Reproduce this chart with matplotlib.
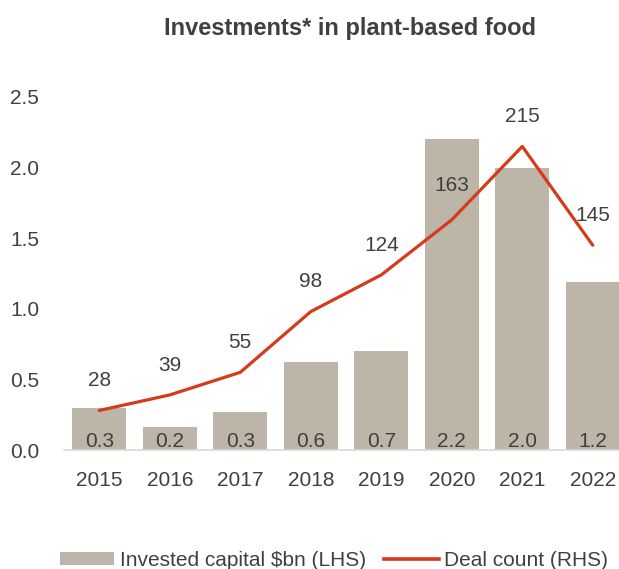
import matplotlib
matplotlib.use("Agg")
import matplotlib.pyplot as plt
from matplotlib.patches import Patch
from matplotlib.lines import Line2D

years = ["2015", "2016", "2017", "2018", "2019", "2020", "2021", "2022"]
invested_bn = [0.30, 0.16, 0.27, 0.62, 0.70, 2.20, 2.00, 1.19]
invested_labels = ["0.3", "0.2", "0.3", "0.6", "0.7", "2.2", "2.0", "1.2"]
deal_count = [28, 39, 55, 98, 124, 163, 215, 145]
y_ticks = [0.0, 0.5, 1.0, 1.5, 2.0, 2.5]

plt.rcParams['font.family'] = ['Liberation Sans', 'DejaVu Sans']
TXT = '#404040'
BAR = '#BDB5A8'
LINE = '#D63A1A'
FS = 15

fig = plt.figure(figsize=(6.19, 5.69), dpi=100)
W, H = 619, 569
ax = fig.add_axes([64 / W, 1 - 450 / H, (628 - 64) / W, (450 - 97) / H])
x = list(range(len(years)))
ax.bar(x, invested_bn, width=0.77, color=BAR, zorder=2)
ax.set_xlim(-0.5, len(years) - 0.5)
ax.set_ylim(0, 2.5)
ax.set_yticks(y_ticks)
ax.set_yticklabels([f"{v:.1f}" for v in y_ticks])
ax.set_xticks(x)
ax.set_xticklabels(years)
ax.tick_params(axis='both', length=0, labelsize=FS, colors=TXT)
ax.tick_params(axis='y', pad=18)
ax.tick_params(axis='x', pad=15)
for s in ['top', 'right', 'left']:
    ax.spines[s].set_visible(False)
ax.spines['bottom'].set_color('#D9D9D9')
ax.spines['bottom'].set_linewidth(1.2)
ax.spines['bottom'].set_zorder(3)

for xi, lab in zip(x, invested_labels):
    ax.text(xi, 0.06, lab, ha='center', va='center', fontsize=FS, color=TXT, zorder=4)

ax2 = ax.twinx()
ax2.set_ylim(0, 250)
ax2.axis('off')
ax2.plot(x, deal_count, color=LINE, linewidth=2.3, solid_capstyle='round', zorder=5)
for xi, d in zip(x, deal_count):
    off = 24 if d == 163 else 21
    ax2.text(xi, d + off, str(d), ha='center', va='center', fontsize=FS, color=TXT)

fig.text(350 / W, 1 - 28 / H, "Investments* in plant-based food", ha='center', va='center',
         fontsize=17, fontweight='bold', color=TXT)

handles = [Patch(facecolor=BAR, edgecolor='none'),
           Line2D([0], [0], color=LINE, linewidth=2.6)]
fig.legend(handles, ["Invested capital $bn (LHS)", "Deal count (RHS)"],
           loc='center', bbox_to_anchor=(334 / W, 1 - 560 / H), ncol=2, frameon=False,
           fontsize=15, labelcolor=TXT, handlelength=2.6, handletextpad=0.25,
           columnspacing=0.9, handleheight=0.6)

fig.savefig("out.png", dpi=100)
